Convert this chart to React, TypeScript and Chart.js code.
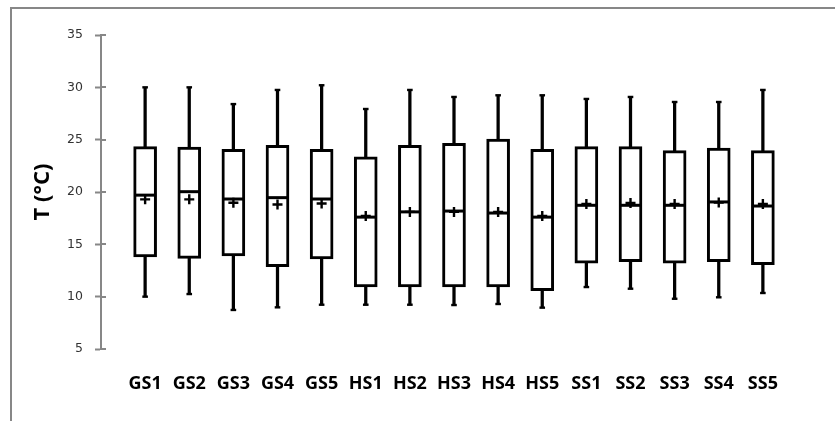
import React, { useEffect, useRef } from "react";
import { Chart, registerables } from "chart.js";

Chart.register(...registerables);

const categories = ["GS1", "GS2", "GS3", "GS4", "GS5", "HS1", "HS2", "HS3", "HS4", "HS5", "SS1", "SS2", "SS3", "SS4", "SS5"];
const minValues = [10.0, 10.25, 8.73, 8.98, 9.23, 9.23, 9.23, 9.2, 9.3, 8.95, 10.92, 10.76, 9.8, 9.94, 10.35];
const q1Values = [13.8, 13.66, 13.9, 12.87, 13.6, 10.92, 10.92, 10.92, 10.92, 10.57, 13.19, 13.35, 13.19, 13.35, 13.05];
const medianValues = [19.7, 20.03, 19.33, 19.46, 19.33, 17.6, 18.1, 18.18, 17.99, 17.6, 18.73, 18.73, 18.73, 19.05, 18.66];
const q3Values = [24.33, 24.3, 24.08, 24.46, 24.08, 23.37, 24.46, 24.65, 25.06, 24.08, 24.33, 24.33, 23.95, 24.2, 23.95];
const maxValues = [30.0, 30.0, 28.4, 29.75, 30.2, 27.93, 29.75, 29.08, 29.24, 29.24, 28.89, 29.08, 28.6, 28.6, 29.75];
const meanValues = [19.3, 19.3, 18.98, 18.8, 18.9, 17.7, 18.1, 18.1, 18.1, 17.7, 18.85, 18.95, 18.85, 19.0, 18.85];
const yTicks = [5, 10, 15, 20, 25, 30, 35];
const yTitle = "T (°C)";

const AXIS_GRAY = "#878787";

const crossTicks = {
  id: "crossTicks",
  afterDraw(chart: any) {
    const y = chart.scales.y;
    const ctx = chart.ctx;
    ctx.save();
    ctx.strokeStyle = AXIS_GRAY;
    ctx.lineWidth = 2;
    y.ticks.forEach((_t: any, i: number) => {
      const py = Math.round(y.getPixelForTick(i));
      ctx.beginPath();
      ctx.moveTo(y.right, py);
      ctx.lineTo(y.right + 5, py);
      ctx.stroke();
    });
    ctx.restore();
  },
};

export default function App() {
  const ref = useRef<HTMLCanvasElement>(null);
  useEffect(() => {
    if (!ref.current) return;
    const xs = categories.map((_, i) => i + 1);
    const chart = new Chart(ref.current, {
      type: "bar",
      data: {
        datasets: [
          {
            type: "bar",
            data: xs.map((x, i) => ({ x, y: [minValues[i], q1Values[i]] })) as any,
            backgroundColor: "#000",
            borderWidth: 0,
            barThickness: 2.6,
            grouped: false,
            order: 6,
          } as any,
          {
            type: "bar",
            data: xs.map((x, i) => ({ x, y: [q3Values[i], maxValues[i]] })) as any,
            backgroundColor: "#000",
            borderWidth: 0,
            barThickness: 2.6,
            grouped: false,
            order: 6,
          } as any,
          {
            type: "bar",
            data: xs.map((x, i) => ({ x, y: [q1Values[i], q3Values[i]] })) as any,
            backgroundColor: "#fff",
            borderColor: "#000",
            borderWidth: 3,
            borderSkipped: false,
            barThickness: 23,
            grouped: false,
            order: 5,
          } as any,
          {
            type: "line",
            data: xs.map((x, i) => ({ x, y: medianValues[i] })),
            showLine: false,
            pointStyle: "line",
            pointRadius: 11,
            borderColor: "#000",
            pointBorderColor: "#000",
            pointBorderWidth: 3,
            order: 4,
          } as any,
          {
            type: "line",
            data: xs.map((x, i) => ({ x, y: meanValues[i] })),
            showLine: false,
            pointStyle: "cross",
            pointRadius: 5,
            pointBorderColor: "#000",
            pointBorderWidth: 2.4,
            order: 3,
          } as any,
          {
            type: "line",
            data: xs.map((x, i) => ({ x, y: minValues[i] })),
            showLine: false,
            pointStyle: "line",
            pointRadius: 2.8,
            pointBorderColor: "#000",
            pointBorderWidth: 2.4,
            order: 2,
          } as any,
          {
            type: "line",
            data: xs.map((x, i) => ({ x, y: maxValues[i] })),
            showLine: false,
            pointStyle: "line",
            pointRadius: 2.8,
            pointBorderColor: "#000",
            pointBorderWidth: 2.4,
            order: 2,
          } as any,
        ],
      },
      options: {
        animation: false,
        responsive: true,
        maintainAspectRatio: false,
        layout: { padding: { left: 0, right: 28, top: 35, bottom: 0 } },
        plugins: { legend: { display: false }, tooltip: { enabled: false } },
        scales: {
          x: {
            type: "linear",
            offset: false,
            min: 0,
            max: 16,
            grid: { display: false, drawTicks: false },
            border: { display: false },
            afterFit: (s: any) => {
              s.height = 72;
            },
            afterBuildTicks: (s: any) => {
              s.ticks = categories.map((_, i) => ({ value: i + 1 }));
            },
            ticks: {
              autoSkip: false,
              maxRotation: 0,
              minRotation: 0,
              padding: 24,
              color: "#000",
              font: { family: "'Open Sans', sans-serif", size: 18, weight: "bold" },
              callback: (v: any) => categories[Number(v) - 1] ?? "",
            },
          },
          y: {
            min: 5,
            max: 35,
            afterFit: (s: any) => {
              s.width = 101;
            },
            afterBuildTicks: (s: any) => {
              s.ticks = yTicks.map((v) => ({ value: v }));
            },
            grid: {
              drawOnChartArea: false,
              drawTicks: true,
              tickLength: 6,
              tickWidth: 2,
              tickColor: AXIS_GRAY,
            },
            border: { display: true, color: AXIS_GRAY, width: 2 },
            ticks: {
              padding: 12,
              color: "#333",
              font: { family: "'DejaVu Sans', sans-serif", size: 12.5 },
            },
            title: {
              display: true,
              text: yTitle,
              color: "#000",
              padding: { top: 30, bottom: 0 },
              font: { family: "'Open Sans', sans-serif", size: 22, weight: "bold" },
            },
          },
        },
      },
      plugins: [crossTicks],
    });
    return () => chart.destroy();
  }, []);

  return (
    <div style={{ position: "fixed", left: 0, top: 0, width: 835, height: 421, background: "#fff", overflow: "hidden" }}>
      <div
        style={{
          position: "absolute",
          left: 10,
          top: 7,
          width: 900,
          height: 500,
          borderLeft: `2px solid ${AXIS_GRAY}`,
          borderTop: `2px solid ${AXIS_GRAY}`,
        }}
      />
      <canvas ref={ref} style={{ position: "absolute", left: 0, top: 0, width: 835, height: 421 }} />
    </div>
  );
}
